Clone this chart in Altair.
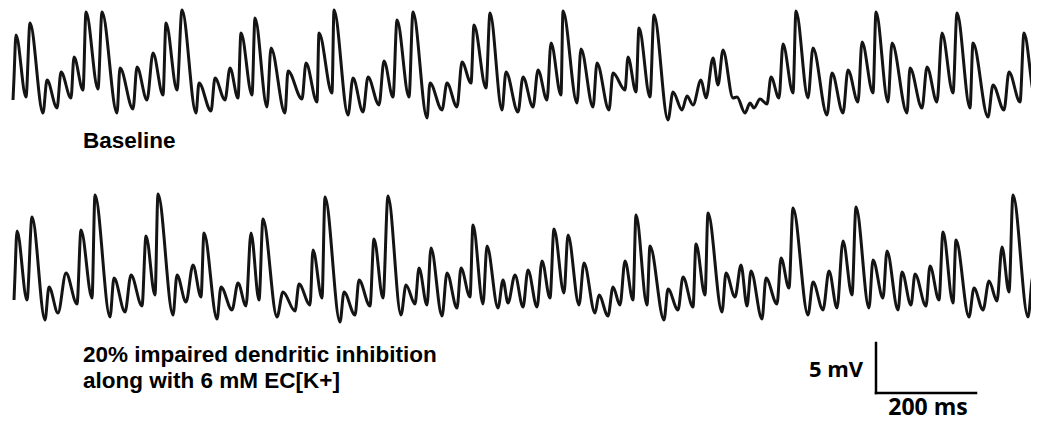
import altair as alt
import pandas as pd

# ---- Baseline trace (time in ms, voltage in mV) ----
baseline_t = [2, 4, 8, 28, 36, 62, 70, 90, 98, 118,
              124, 142, 148, 172, 180, 210, 216, 242, 250, 270,
              282, 302, 308, 330, 340, 368, 374, 398, 406, 426,
              436, 452, 458, 480, 486, 510, 518, 546, 552, 580,
              588, 610, 614, 640, 644, 672, 682, 702, 712, 734,
              744, 762, 770, 794, 802, 830, 836, 860, 870, 890,
              900, 918, 924, 948, 956, 980, 988, 1012, 1022, 1042,
              1052, 1070, 1078, 1098, 1102, 1130, 1138, 1162, 1170, 1194,
              1202, 1226, 1232, 1248, 1254, 1276, 1284, 1312, 1322, 1340,
              1350, 1362, 1378, 1388, 1402, 1412, 1422, 1442, 1450, 1466,
              1476, 1484, 1496, 1510, 1518, 1534, 1542, 1562, 1568, 1592,
              1602, 1630, 1640, 1662, 1672, 1692, 1700, 1722, 1728, 1752,
              1760, 1790, 1796, 1820, 1830, 1850, 1860, 1882, 1890, 1916,
              1922, 1952, 1962, 1984, 1994, 2016, 2024, 2046, 2050]
baseline_mv = [1.5, 3.7, 8.0, 1.8, 9.2, 0.2, 3.5, 0.7, 4.3, 1.7,
               5.8, 2.5, 10.3, 2.6, 10.3, 0.2, 4.7, 0.6, 4.8, 1.5,
               6.2, 2.0, 9.2, 2.5, 10.5, 0.2, 3.2, 0.4, 3.7, 1.5,
               4.7, 1.7, 8.2, 2.0, 9.7, 0.8, 6.7, 0.2, 4.4, 1.6,
               5.2, 1.3, 8.2, 2.2, 10.5, 0.0, 3.7, 0.3, 3.8, 1.0,
               5.4, 1.8, 9.5, 1.8, 10.3, -0.3, 3.2, 0.5, 3.2, 0.8,
               5.3, 3.2, 9.0, 2.7, 10.2, 0.5, 4.3, 0.3, 3.8, 0.8,
               4.5, 1.5, 7.2, 2.0, 10.4, 1.2, 6.6, 0.8, 5.2, 0.5,
               4.2, 2.5, 5.8, 2.3, 8.7, 1.8, 10.0, -0.5, 2.3, 0.5,
               1.9, 1.0, 3.5, 1.7, 5.7, 3.0, 6.5, 1.7, 1.8, 0.2,
               1.2, 0.7, 1.6, 1.1, 3.8, 1.7, 7.1, 2.2, 10.4, 1.7,
               6.7, 0.0, 4.2, 0.2, 4.5, 1.3, 7.3, 2.2, 10.3, 1.3,
               7.2, 0.2, 4.7, 0.7, 4.8, 1.3, 8.2, 2.2, 10.2, 0.7,
               7.2, -0.2, 3.0, 0.5, 4.3, 1.3, 8.2, 1.8, 10.5]

# ---- 20% impaired dendritic inhibition + 6 mM EC[K+] trace ----
impaired_t = [4, 6, 10, 30, 40, 66, 74, 92, 108, 130,
              138, 160, 166, 196, 204, 226, 238, 260, 268, 286,
              292, 322, 330, 348, 362, 378, 384, 410, 418, 440,
              452, 468, 478, 494, 502, 530, 542, 566, 574, 596,
              602, 620, 626, 656, 664, 686, 694, 716, 724, 742,
              752, 778, 788, 806, 814, 830, 838, 860, 870, 890,
              898, 916, 922, 942, 950, 972, 982, 992, 1006, 1022,
              1032, 1050, 1060, 1076, 1084, 1104, 1112, 1134, 1144, 1166,
              1174, 1192, 1202, 1216, 1226, 1242, 1248, 1270, 1276, 1304,
              1312, 1332, 1342, 1362, 1368, 1386, 1392, 1420, 1428, 1446,
              1458, 1470, 1478, 1500, 1508, 1530, 1538, 1554, 1562, 1592,
              1602, 1622, 1634, 1650, 1662, 1680, 1688, 1714, 1722, 1742,
              1750, 1772, 1780, 1798, 1806, 1828, 1836, 1854, 1862, 1882,
              1888, 1914, 1924, 1942, 1954, 1970, 1980, 1994, 2002, 2032,
              2042, 2052]
impaired_mv = [2.5, 5.0, 9.4, 2.5, 10.8, 0.5, 3.8, 1.2, 5.2, 2.1,
               9.5, 2.7, 13.0, 0.8, 4.7, 1.3, 5.0, 1.9, 8.9, 3.0,
               13.1, 1.0, 5.0, 2.3, 6.0, 2.8, 9.2, 0.6, 3.8, 1.5,
               4.2, 1.9, 9.2, 2.5, 10.6, 0.8, 3.3, 1.4, 4.1, 2.0,
               7.5, 2.7, 12.8, 0.3, 3.3, 1.0, 4.5, 1.9, 8.6, 2.7,
               12.9, 1.0, 4.0, 2.1, 5.7, 2.0, 7.7, 0.9, 5.2, 1.7,
               5.7, 2.8, 10.0, 2.1, 7.9, 1.7, 4.5, 2.2, 5.0, 1.8,
               5.5, 1.8, 6.4, 2.7, 9.6, 3.2, 9.0, 2.0, 6.2, 1.2,
               3.0, 0.9, 3.8, 2.0, 6.4, 2.5, 11.0, 2.0, 7.9, 0.5,
               3.6, 1.5, 4.8, 1.8, 8.1, 3.0, 11.2, 1.3, 5.2, 2.8,
               6.0, 1.9, 5.4, 0.6, 4.7, 2.1, 6.7, 3.7, 11.7, 1.0,
               4.3, 1.5, 5.4, 1.7, 8.4, 3.0, 11.8, 1.7, 6.5, 2.7,
               7.4, 1.5, 5.3, 2.0, 5.1, 1.9, 5.9, 2.5, 9.3, 2.2,
               8.5, 0.8, 3.7, 1.5, 4.4, 2.4, 7.8, 3.3, 13.0, 0.8,
               4.9, 3.5]

# ---- labels and scale bar ----
label_top = "Baseline"
label_bottom = ["20% impaired dendritic inhibition", "along with 6 mM EC[K+]"]
scale_ms = 200
scale_mv = 5
scale_bar_start_ms = 1728

# vertical placement of each trace on the shared mV axis (layout only)
offsets = {"baseline": 30.7, "impaired": 9.7}

df_top = pd.DataFrame({"t": baseline_t, "mv": baseline_mv})
df_top["trace"] = "baseline"
df_top["order"] = range(len(df_top))
df_bot = pd.DataFrame({"t": impaired_t, "mv": impaired_mv})
df_bot["trace"] = "impaired"
df_bot["order"] = range(len(df_bot))
df = pd.concat([df_top, df_bot], ignore_index=True)
df["y"] = df["mv"] + df["trace"].map(offsets)

xscale = alt.Scale(domain=[-8, 2038], nice=False, zero=False)
yscale = alt.Scale(domain=[0, 41.4], nice=False, zero=False)

traces = alt.Chart(df).mark_line(
    color="#141414", strokeWidth=3, clip=True, strokeJoin="round",
    interpolate="monotone"
).encode(
    x=alt.X("t:Q", scale=xscale, axis=None),
    y=alt.Y("y:Q", scale=yscale, axis=None),
    detail="trace:N",
    order="order:Q",
)

bar_y0 = 2.9
bars = pd.DataFrame({
    "x": [scale_bar_start_ms, scale_bar_start_ms],
    "x2": [scale_bar_start_ms + scale_ms, scale_bar_start_ms],
    "y": [bar_y0, bar_y0],
    "y2": [bar_y0, bar_y0 + scale_mv],
})
scalebar = alt.Chart(bars).mark_rule(color="black", strokeWidth=2.5, strokeCap="square").encode(
    x=alt.X("x:Q", scale=xscale, axis=None),
    x2="x2:Q",
    y=alt.Y("y:Q", scale=yscale, axis=None),
    y2="y2:Q",
)

def label(txt, x, y, font="Liberation Sans", size=22.5, align="left"):
    return alt.Chart(pd.DataFrame({"a": [0]})).mark_text(
        align=align, baseline="middle", font=font, fontSize=size,
        fontWeight="bold", color="black"
    ).encode(x=alt.value(x), y=alt.value(y), text=alt.value(txt))

texts = [
    label(label_top, 75, 133),
    label(label_bottom[0], 75, 347),
    label(label_bottom[1], 75, 373),
    label(f"{scale_mv} mV", 828, 362, font="Open Sans", size=22, align="center"),
    label(f"{scale_ms} ms", 920, 400, font="Open Sans", size=23, align="center"),
]

chart = alt.layer(traces, scalebar, *texts).properties(
    width=1023, height=414, padding=0,
    autosize=alt.AutoSizeParams(type="none"),
).configure_view(stroke=None)

chart.save("out.html", embed_options={"renderer": "svg", "actions": False})
